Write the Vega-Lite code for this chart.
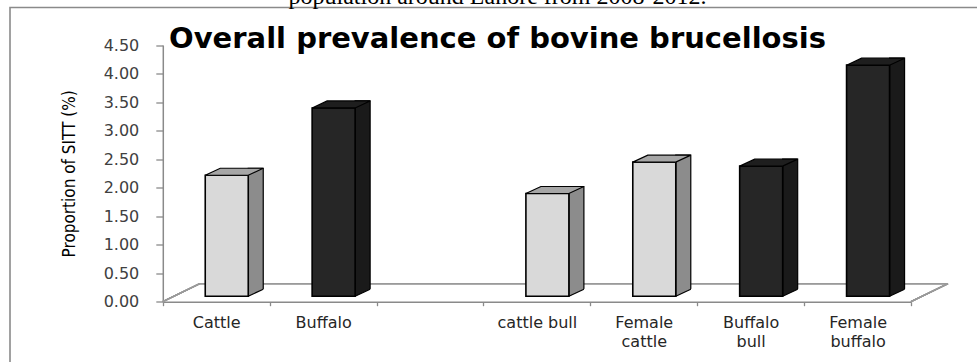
{
  "$schema": "https://vega.github.io/schema/vega-lite/v6.json",
  "width": 975,
  "height": 360,
  "autosize": "none",
  "padding": {"left": 10, "top": 7.5, "right": -8, "bottom": -5.5},
  "background": "white",
  "config": {
    "view": {"stroke": "#8a8a8a", "strokeWidth": 1.6},
    "axis": {"grid": false}
  },
  "title": {
    "text": "population around Lahore from 2008-2012.",
    "subtitle": "Overall prevalence of bovine brucellosis",
    "anchor": "middle",
    "frame": "group",
    "font": "Liberation Serif",
    "fontSize": 24,
    "fontWeight": "normal",
    "color": "#000000",
    "subtitleFont": "DejaVu Sans",
    "subtitleFontSize": 29,
    "subtitleFontWeight": "bold",
    "subtitleColor": "#000000",
    "subtitlePadding": 16,
    "offset": -46
  },
  "data": {
    "values": [
      {"animal": "Cattle", "species": "cattle", "value": 2.12},
      {"animal": "Buffalo", "species": "buffalo", "value": 3.30},
      {"animal": "cattle bull", "species": "cattle", "value": 1.80},
      {"animal": "Female cattle", "species": "cattle", "value": 2.35},
      {"animal": "Buffalo bull", "species": "buffalo", "value": 2.28},
      {"animal": "Female buffalo", "species": "buffalo", "value": 4.05}
    ]
  },
  "encoding": {
    "x": {
      "field": "animal",
      "type": "nominal",
      "scale": {
        "domain": ["Cattle", "Buffalo", " ", "cattle bull", "Female cattle", "Buffalo bull", "Female buffalo"],
        "range": [152.8, 901],
        "paddingInner": 0,
        "paddingOuter": 0
      },
      "axis": {
        "title": null,
        "orient": "bottom",
        "offset": -65.8,
        "labelAngle": 0,
        "tickBand": "extent",
        "domainColor": "#8a8a8a",
        "domainWidth": 1.5,
        "tickColor": "#8a8a8a",
        "tickWidth": 1.3,
        "tickSize": 4,
        "labelFont": "DejaVu Sans",
        "labelFontSize": 16,
        "labelColor": "#262626",
        "labelPadding": 9,
        "labelLineHeight": 19,
        "labelExpr": "indexof(['Female cattle', 'Buffalo bull', 'Female buffalo'], datum.value) >= 0 ? split(datum.value, ' ') : datum.value"
      }
    },
    "y": {
      "field": "value",
      "type": "quantitative",
      "scale": {"domain": [0, 4.5], "range": [294.2, 37.5], "nice": false, "zero": true},
      "axis": {
        "title": "Proportion of SITT (%)",
        "titleFont": "Liberation Sans Narrow, DejaVu Sans Condensed, Roboto Condensed, Liberation Sans",
        "titleFontSize": 17,
        "titleFontWeight": "normal",
        "titleColor": "#000000",
        "titlePadding": 25,
        "offset": -152.8,
        "values": [0, 0.5, 1, 1.5, 2, 2.5, 3, 3.5, 4, 4.5],
        "format": ".2f",
        "domainColor": "#8a8a8a",
        "domainWidth": 1.5,
        "tickColor": "#8a8a8a",
        "tickWidth": 1.3,
        "tickSize": 7,
        "labelFont": "DejaVu Sans",
        "labelFontSize": 16,
        "labelColor": "#404040",
        "labelPadding": 17
      }
    }
  },
  "layer": [
    {
      "mark": {"type": "rule", "color": "#9a9a9a", "strokeWidth": 1.3, "xOffset": 37, "x2Offset": 37, "yOffset": -18},
      "encoding": {
        "x": {"datum": "Cattle", "type": "nominal", "bandPosition": 0},
        "x2": {"datum": "Female buffalo", "bandPosition": 1},
        "y": {"datum": 0, "type": "quantitative"}
      }
    },
    {
      "mark": {"type": "point", "shape": "M0,0 L37,-18", "size": 4, "filled": false, "stroke": "#9a9a9a", "strokeWidth": 1.3, "opacity": 1},
      "encoding": {
        "x": {"datum": "Cattle", "type": "nominal", "bandPosition": 0},
        "y": {"datum": 0, "type": "quantitative"}
      }
    },
    {
      "mark": {"type": "point", "shape": "M0,0 L37,-18", "size": 4, "filled": false, "stroke": "#9a9a9a", "strokeWidth": 1.3, "opacity": 1},
      "encoding": {
        "x": {"datum": "Female buffalo", "type": "nominal", "bandPosition": 1},
        "y": {"datum": 0, "type": "quantitative"}
      }
    },
    {
      "mark": {"type": "bar", "width": 15, "xOffset": 39.5, "yOffset": -12.5, "y2Offset": -5.5, "stroke": "#000000", "strokeWidth": 1.2},
      "encoding": {
        "y2": {"datum": 0},
        "fill": {"condition": {"test": "datum.species === 'buffalo'", "value": "#1a1a1a"}, "value": "#8c8c8c"}
      }
    },
    {
      "mark": {"type": "point", "shape": "M30,-4.57 L48.5,-4.57 L48.5,-13.2 Z", "size": 4, "filled": true, "fill": "#ffffff", "strokeWidth": 0, "opacity": 1},
      "encoding": {
        "y": {"datum": 0, "type": "quantitative"}
      }
    },
    {
      "mark": {"type": "bar", "width": 43, "xOffset": 10.5, "yOffset": -5.5, "y2Offset": -5.5, "stroke": "#000000", "strokeWidth": 1.6},
      "encoding": {
        "y2": {"datum": 0},
        "fill": {"condition": {"test": "datum.species === 'buffalo'", "value": "#262626"}, "value": "#d9d9d9"}
      }
    },
    {
      "mark": {"type": "point", "shape": "M-11,-5.5 L32,-5.5 L47,-12.5 L4,-12.5 Z", "size": 4, "filled": true, "stroke": "#000000", "strokeWidth": 1.2, "opacity": 1},
      "encoding": {
        "fill": {"condition": {"test": "datum.species === 'buffalo'", "value": "#1e1e1e"}, "value": "#a6a6a6"}
      }
    },
    {
      "mark": {"type": "point", "shape": "M32,-5.5 L47,-12.5", "size": 4, "filled": false, "stroke": "#000000", "strokeWidth": 1.2, "opacity": 1},
      "encoding": {
        "y": {"datum": 0, "type": "quantitative"}
      }
    }
  ]
}
